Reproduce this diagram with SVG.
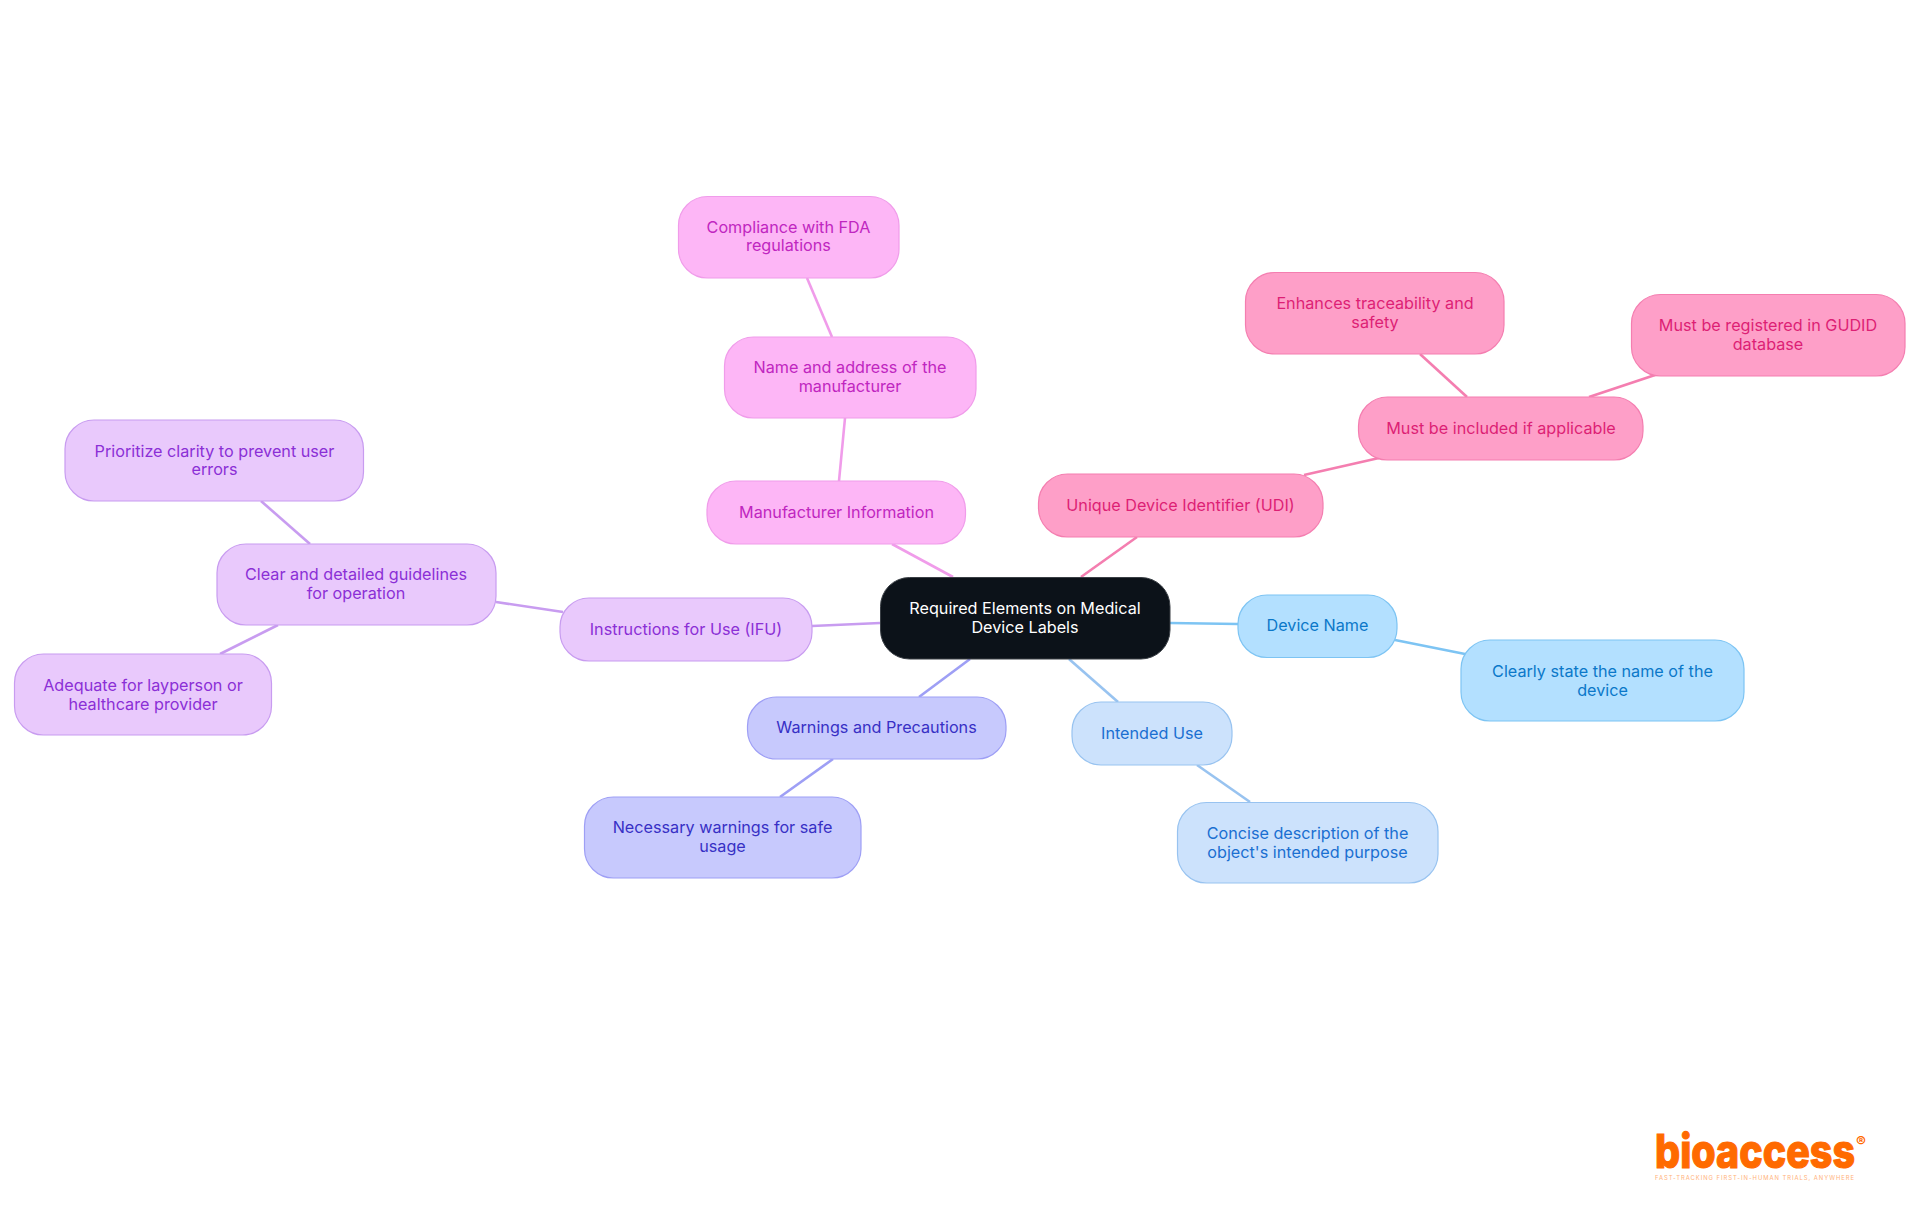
<svg xmlns="http://www.w3.org/2000/svg" width="1920" height="1215" viewBox="0 0 1920 1215">
<style>
text{font-family:"Inter","Noto Sans","Liberation Sans",sans-serif;font-size:16.2px;text-anchor:middle;font-weight:400}
.n{stroke-width:1.2}
#connectors line{stroke-width:2.6;fill:none}
.blue{fill:#b3e0ff;stroke:#7dc4f3}.blue text{fill:#0b78c9;stroke:none}
.sky{fill:#cce2fc;stroke:#98c3f0}.sky text{fill:#1a6fd1;stroke:none}
.ind{fill:#c7c9fd;stroke:#9e9ff5}.ind text{fill:#3730c5;stroke:none}
.pur{fill:#e9c9fc;stroke:#c89cf0}.pur text{fill:#8b2fd6;stroke:none}
.mag{fill:#fdb6f6;stroke:#f09cea}.mag text{fill:#c026c0;stroke:none}
.pnk{fill:#fe9fc8;stroke:#f47eb0}.pnk text{fill:#dd1f75;stroke:none}
</style>
<rect width="1920" height="1215" fill="#ffffff"/>
<g id="connectors">
<line x1="1081" y1="577" x2="1137" y2="537" stroke="#f47eb0"/>
<line x1="1304" y1="475" x2="1379" y2="458" stroke="#f47eb0"/>
<line x1="1467" y1="397" x2="1420" y2="354" stroke="#f47eb0"/>
<line x1="1589" y1="397" x2="1655" y2="375" stroke="#f47eb0"/>
<line x1="1170" y1="623" x2="1238" y2="624" stroke="#7dc4f3"/>
<line x1="1395" y1="640" x2="1465" y2="654" stroke="#7dc4f3"/>
<line x1="1069" y1="659" x2="1118" y2="702" stroke="#98c3f0"/>
<line x1="1197" y1="765" x2="1250" y2="802" stroke="#98c3f0"/>
<line x1="970" y1="659" x2="919" y2="697" stroke="#9e9ff5"/>
<line x1="833" y1="759" x2="780" y2="797" stroke="#9e9ff5"/>
<line x1="880" y1="623" x2="812" y2="626" stroke="#c89cf0"/>
<line x1="563" y1="612" x2="496" y2="602" stroke="#c89cf0"/>
<line x1="310" y1="544" x2="261" y2="501" stroke="#c89cf0"/>
<line x1="278" y1="625" x2="220" y2="654" stroke="#c89cf0"/>
<line x1="953" y1="577" x2="892" y2="544" stroke="#f09cea"/>
<line x1="839" y1="481" x2="845" y2="418" stroke="#f09cea"/>
<line x1="832" y1="337" x2="807" y2="278" stroke="#f09cea"/>
</g>
<g id="root"><rect x="880.5" y="577.5" width="289.5" height="81.5" rx="29" fill="#0c1219" stroke="#3a3f45" stroke-width="1"/><text x="1025" y="614" fill="#ffffff">Required Elements on Medical</text><text x="1025" y="632.5" fill="#ffffff">Device Labels</text></g>
<g id="device-name" class="blue n"><rect x="1238" y="595" width="159" height="62.5" rx="29"/><text x="1317.5" y="630.5">Device Name</text></g>
<g id="device-name-detail" class="blue n"><rect x="1461" y="640" width="283" height="81" rx="29"/><text x="1602.5" y="677">Clearly state the name of the</text><text x="1602.5" y="695.5">device</text></g>
<g id="intended-use" class="sky n"><rect x="1072" y="702" width="160" height="63" rx="29"/><text x="1152" y="738.5">Intended Use</text></g>
<g id="intended-use-detail" class="sky n"><rect x="1177.5" y="802.5" width="260.5" height="80.5" rx="29"/><text x="1307.5" y="839">Concise description of the</text><text x="1307.5" y="857.5">object's intended purpose</text></g>
<g id="warnings" class="ind n"><rect x="747.5" y="697" width="258.5" height="62" rx="29"/><text x="876.5" y="733">Warnings and Precautions</text></g>
<g id="warnings-detail" class="ind n"><rect x="584.5" y="797" width="276.5" height="81" rx="29"/><text x="722.5" y="833">Necessary warnings for safe</text><text x="722.5" y="851.5">usage</text></g>
<g id="ifu" class="pur n"><rect x="560" y="598" width="252" height="63" rx="29"/><text x="686" y="634.5">Instructions for Use (IFU)</text></g>
<g id="ifu-guidelines" class="pur n"><rect x="217" y="544" width="279" height="81" rx="29"/><text x="356" y="580">Clear and detailed guidelines</text><text x="356" y="598.5">for operation</text></g>
<g id="ifu-clarity" class="pur n"><rect x="65" y="420" width="298.5" height="81" rx="29"/><text x="214.5" y="456.5">Prioritize clarity to prevent user</text><text x="214.5" y="475">errors</text></g>
<g id="ifu-adequate" class="pur n"><rect x="14.5" y="654" width="257" height="81" rx="29"/><text x="143" y="691">Adequate for layperson or</text><text x="143" y="709.5">healthcare provider</text></g>
<g id="manufacturer" class="mag n"><rect x="707" y="481" width="258.5" height="63" rx="29"/><text x="836.5" y="517.5">Manufacturer Information</text></g>
<g id="manufacturer-name" class="mag n"><rect x="724.5" y="337" width="251.5" height="81" rx="29"/><text x="850" y="373">Name and address of the</text><text x="850" y="391.5">manufacturer</text></g>
<g id="manufacturer-fda" class="mag n"><rect x="678.5" y="196.5" width="220.5" height="81.5" rx="29"/><text x="788.5" y="233">Compliance with FDA</text><text x="788.5" y="251">regulations</text></g>
<g id="udi" class="pnk n"><rect x="1038.5" y="474" width="284.5" height="63" rx="29"/><text x="1180.5" y="510.5">Unique Device Identifier (UDI)</text></g>
<g id="udi-applicable" class="pnk n"><rect x="1358.5" y="397" width="284.5" height="63" rx="29"/><text x="1501" y="433.5">Must be included if applicable</text></g>
<g id="udi-traceability" class="pnk n"><rect x="1245.5" y="272.5" width="258.5" height="81.5" rx="29"/><text x="1375" y="309">Enhances traceability and</text><text x="1375" y="328">safety</text></g>
<g id="udi-gudid" class="pnk n"><rect x="1631.5" y="294.5" width="273.5" height="81.5" rx="29"/><text x="1768" y="331">Must be registered in GUDID</text><text x="1768" y="349.5">database</text></g>
<g id="logo">
<text x="1655" y="1168" textLength="200" lengthAdjust="spacingAndGlyphs" style="font-size:47px;font-weight:800;text-anchor:start;fill:#ff6a00;stroke:#ff6a00;stroke-width:1.2">bioaccess</text>
<text x="1861" y="1147" style="font-size:15px;font-weight:700;fill:#ff6a00">®</text>
<text x="1655" y="1180" textLength="200" lengthAdjust="spacingAndGlyphs" style="font-size:6px;text-anchor:start;fill:#ffb27a;letter-spacing:1px">FAST-TRACKING FIRST-IN-HUMAN TRIALS, ANYWHERE</text>
</g>
</svg>
